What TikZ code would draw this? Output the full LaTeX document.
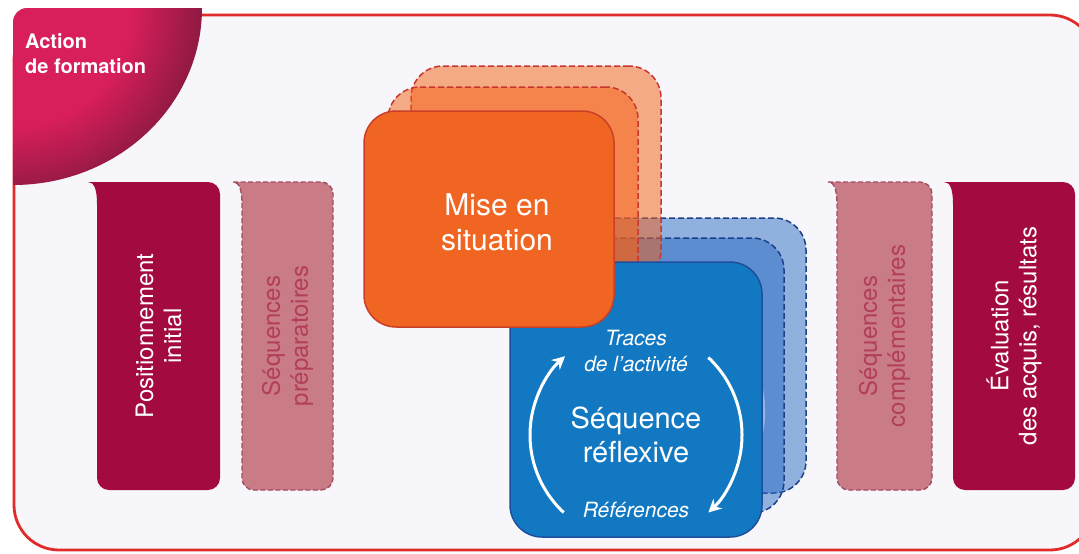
\documentclass[tikz,border=0pt]{standalone}
\usepackage{fontspec}
\setmainfont{TeX Gyre Heros}
\usetikzlibrary{arrows.meta}

\definecolor{framered}{HTML}{E12A2A}
\definecolor{framebg}{HTML}{F7F6FA}
\definecolor{tabred}{HTML}{D81E5B}
\definecolor{tabdark}{HTML}{931A43}
\definecolor{crimson}{HTML}{A30A3F}
\definecolor{rosefill}{HTML}{C97B86}
\definecolor{roseline}{HTML}{A24D63}
\definecolor{rosetext}{HTML}{B23E5A}
\definecolor{miseorange}{HTML}{F06522}
\definecolor{miseline}{HTML}{C8402A}
\definecolor{misefade}{HTML}{F55F14}
\definecolor{misedash}{HTML}{C8362E}
\definecolor{seqblue}{HTML}{1278C2}
\definecolor{seqline}{HTML}{1D4F9E}
\definecolor{seqfade}{HTML}{2A6CC4}
\definecolor{seqdash}{HTML}{1E3F8A}

\pgfdeclareradialshading{tabglow}{\pgfpointorigin}{color(0bp)=(tabred); color(8bp)=(tabred); color(12.5bp)=(tabdark); color(50bp)=(tabdark)}

\tikzset{
    solidtab/.style={fill=crimson, draw=none},
    dashtab/.style={fill=rosefill, draw=roseline, line width=1.4pt, dash pattern=on 5pt off 2.5pt},
    sidetext/.style={rotate=90, align=center, inner sep=0pt, font=\fontsize{24}{28}\selectfont},
    tablabel/.style={anchor=north west, align=left, inner sep=0pt, white, font=\bfseries\fontsize{20}{25}\selectfont},
    misebox/.style={draw=miseline, fill=miseorange, line width=1.5pt, rounded corners=32pt, minimum width=250pt, minimum height=216pt, inner sep=0pt},
    miseghost/.style={misebox, draw=misedash, fill=misefade, fill opacity=0.5, dash pattern=on 6pt off 3pt},
    seqbox/.style={draw=seqline, fill=seqblue, line width=1.5pt, rounded corners=32pt, minimum width=252pt, minimum height=275pt, inner sep=0pt},
    seqghost/.style={seqbox, draw=seqdash, fill=seqfade, fill opacity=0.5, dash pattern=on 6pt off 3pt},
    miselabel/.style={align=center, white, font=\fontsize{30}{35}\selectfont},
    seqlabel/.style={align=center, white, font=\fontsize{29}{34}\selectfont},
    cyclabel/.style={align=center, white, font=\itshape\fontsize{21}{26}\selectfont},
    cyclearrow/.style={white, line width=3pt, -{Stealth[length=13pt, width=13pt]}},
    ghostarc/.style={white, opacity=0.35, line width=2.5pt}
}

\begin{document}
\begin{tikzpicture}[x=1pt, y=-1pt]
    \useasboundingbox (0,0) rectangle (1079,554);
    % Frame of the training action
    \draw[framered, fill=framebg, line width=2.8pt, rounded corners=45pt] (14,15) rectangle (1095,550);
    % Tab in the top left corner
    \begin{scope}
        \clip (13,185) -- (13,22) arc[start angle=180, end angle=270, radius=14] -- (202,8)
            arc[start angle=0, end angle=90, x radius=189, y radius=177] -- cycle;
        \shade[shading=tabglow] (13,8) circle (370);
    \end{scope}
    \node[tablabel] (action) at (25,33) {Action\\de formation};

    % Side sequences
    \foreach \L/\R/\s in {97/220/solidtab, 242/333/dashtab, 837/932/dashtab, 953/1075/solidtab}
        \draw[\s] (\L-9,182) [rounded corners=12pt] -- (\R,182) -- (\R,490) -- (\L,490) -- (\L,240)
            [sharp corners] -- (\L,204) .. controls (\L,189) and (\L-3,182) .. (\L-9,182) -- cycle;
    \node[sidetext, white] (posinit) at (158.5,336) {Positionnement\\initial};
    \node[sidetext, rosetext] (seqprep) at (287.5,336) {Séquences\\préparatoires};
    \node[sidetext, rosetext] (seqcomp) at (884.5,336) {Séquences\\complémentaires};
    \node[sidetext, white] (evalres) at (1014,336) {Évaluation\\des acquis, résultats};

    % Stacked copies
    \coordinate (seqpos) at (636,399.5);
    \coordinate (misepos) at (489,219);
    \coordinate (cyc) at (636,435);
    \node[seqghost] (seqbox-b2) at ([shift={(44,-44)}]seqpos) {};
    \node[seqghost] (seqbox-b1) at ([shift={(22,-24)}]seqpos) {};
    \draw[ghostarc] ([shift={(22,-24)}]cyc) ++(-47:106) arc[start angle=-47, end angle=47, radius=106];
    \node[miseghost] (misebox-b2) at ([shift={(47,-45)}]misepos) {};
    \node[miseghost] (misebox-b1) at ([shift={(24,-24)}]misepos) {};

    % Front boxes
    \node[seqbox] (seqbox) at (seqpos) {};
    \node[misebox] (misebox) at (misepos) {};
    \node[miselabel] (mise) at (497,222) {Mise en\\situation};

    % Reflexive cycle
    \node[cyclabel] (traces) at (636,351) {Traces\\de l’activité};
    \node[seqlabel] (seqref) at (cyc) {Séquence\\réflexive};
    \node[cyclabel] (refs) at (636,510) {Références};
    \draw[cyclearrow] (cyc) ++(133:106) arc[start angle=133, end angle=228, radius=106];
    \draw[cyclearrow] (cyc) ++(-47:106) arc[start angle=-47, end angle=47, radius=106];
\end{tikzpicture}
\end{document}
